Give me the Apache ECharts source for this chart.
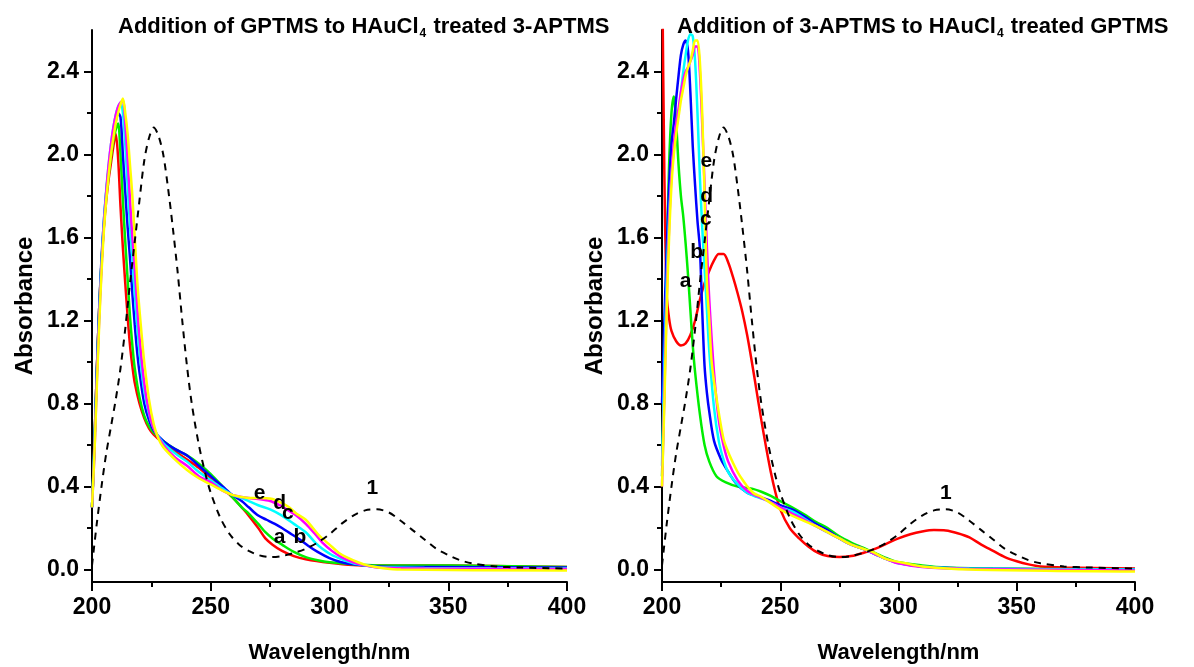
<!DOCTYPE html>
<html><head><meta charset="utf-8">
<script src="https://cdn.jsdelivr.net/npm/echarts@6/dist/echarts.min.js"></script>
<style>html,body{margin:0;padding:0;background:#fff}#c{width:1194px;height:667px}</style>
</head><body><div id="c"></div>
<script>
// ---------- tick labels ----------
const xTicks = [200, 250, 300, 350, 400];
const yTicks = [0, 0.4, 0.8, 1.2, 1.6, 2.0, 2.4];
const yMinorTicks = [0.2, 0.6, 1.0, 1.4, 1.8, 2.2];

// ---------- titles / names ----------
const leftTitle = ['Addition of GPTMS to HAuCl', '4', ' treated 3-APTMS'];
const rightTitle = ['Addition of 3-APTMS to HAuCl', '4', ' treated GPTMS'];
const xName = 'Wavelength/nm';
const yName = 'Absorbance';

// ---------- reference spectrum "1" (dashed) ----------
const ref1 = [[200,0.02],[202,0.22],[204,0.4],[206,0.56],[208,0.69],[210,0.82],[212,0.97],[214,1.16],[216,1.38],[218,1.58],[220,1.78],[222,1.97],[224,2.08],[226,2.13],[228,2.09],[230,2.0],[232,1.84],[234,1.65],[236,1.44],[238,1.2],[240,0.98],[242,0.8],[245,0.6],[248,0.45],[250,0.37],[254,0.25],[258,0.17],[262,0.12],[266,0.09],[270,0.07],[275,0.06],[280,0.065],[285,0.08],[290,0.1],[295,0.13],[300,0.17],[305,0.22],[310,0.26],[315,0.285],[320,0.29],[325,0.275],[330,0.235],[335,0.19],[340,0.145],[345,0.1],[350,0.07],[355,0.045],[360,0.03],[370,0.015],[380,0.01],[400,0.005]];

// ---------- left panel: GPTMS added to HAuCl4-treated 3-APTMS ----------
const L_red = [[200,0.3],[201,0.6],[202,0.95],[203,1.25],[204,1.48],[205,1.65],[206,1.78],[207,1.88],[208,1.96],[209,2.04],[210,2.1],[211,1.98],[212,1.75],[213,1.55],[214,1.38],[215,1.22],[216,1.08],[217,0.98],[218,0.9],[220,0.8],[222,0.73],[224,0.68],[226,0.65],[230,0.61],[235,0.57],[240,0.53],[245,0.49],[250,0.44],[255,0.39],[259,0.35],[263,0.3],[266,0.26],[270,0.2],[273,0.15],[276,0.12],[280,0.09],[285,0.065],[290,0.05],[300,0.033],[310,0.022],[320,0.02],[340,0.02],[360,0.018],[380,0.015],[400,0.012]];
const L_green = [[200,0.3],[201,0.6],[202,0.95],[203,1.25],[204,1.48],[205,1.66],[206,1.8],[207,1.9],[208,1.99],[209,2.07],[210,2.12],[211,2.15],[212,2.0],[213,1.78],[214,1.58],[215,1.4],[216,1.22],[217,1.08],[218,0.97],[220,0.83],[222,0.74],[224,0.69],[226,0.66],[230,0.62],[235,0.58],[240,0.55],[245,0.51],[250,0.46],[255,0.4],[259,0.35],[263,0.3],[266,0.27],[270,0.22],[273,0.18],[276,0.15],[280,0.12],[285,0.085],[290,0.06],[295,0.045],[300,0.035],[310,0.025],[320,0.02],[340,0.02],[360,0.018],[400,0.012]];
const L_blue = [[200,0.3],[201,0.6],[202,0.95],[203,1.25],[204,1.5],[205,1.68],[206,1.82],[207,1.93],[208,2.02],[209,2.1],[210,2.16],[211,2.2],[212,2.18],[213,2.0],[214,1.82],[215,1.65],[216,1.5],[217,1.33],[218,1.18],[219,1.05],[220,0.95],[222,0.8],[224,0.72],[226,0.67],[230,0.62],[235,0.58],[240,0.55],[245,0.5],[250,0.45],[255,0.4],[259,0.36],[263,0.33],[266,0.3],[270,0.26],[273.5,0.24],[277,0.22],[280,0.2],[284,0.17],[287.5,0.145],[291,0.115],[295,0.085],[300,0.055],[305,0.035],[310,0.025],[320,0.015],[340,0.012],[400,0.01]];
const L_cyan = [[200,0.3],[201,0.58],[202,0.92],[203,1.22],[204,1.48],[205,1.68],[206,1.83],[207,1.95],[208,2.05],[209,2.13],[210,2.19],[211,2.23],[212,2.25],[213,2.2],[214,2.05],[215,1.85],[216,1.66],[217,1.5],[218,1.33],[219,1.18],[220,1.05],[222,0.86],[224,0.75],[226,0.68],[230,0.61],[235,0.56],[240,0.52],[245,0.47],[250,0.43],[255,0.39],[259,0.36],[263,0.345],[266,0.33],[270,0.31],[275,0.29],[280,0.26],[285,0.22],[290,0.18],[294,0.13],[297,0.1],[301,0.07],[305,0.05],[310,0.03],[315,0.02],[320,0.012],[340,0.008],[400,0.005]];
const L_magenta = [[200,0.3],[201,0.55],[202,0.9],[203,1.2],[204,1.45],[205,1.66],[206,1.82],[207,1.95],[208,2.05],[209,2.13],[210,2.19],[211,2.23],[212,2.25],[213,2.26],[214,2.15],[215,1.98],[216,1.78],[217,1.6],[218,1.45],[219,1.28],[220,1.12],[222,0.9],[224,0.76],[226,0.68],[230,0.6],[235,0.54],[240,0.5],[245,0.45],[250,0.42],[255,0.38],[259,0.36],[263,0.35],[266,0.345],[270,0.34],[275,0.33],[279,0.31],[282,0.29],[286,0.26],[290,0.22],[294,0.17],[297,0.13],[301,0.09],[305,0.06],[310,0.035],[315,0.02],[320,0.01],[340,0.005],[400,0.003]];
const L_yellow = [[200,0.3],[201,0.55],[202,0.87],[203,1.17],[204,1.43],[205,1.63],[206,1.78],[207,1.9],[208,2.0],[209,2.08],[210,2.15],[211,2.2],[212,2.24],[213,2.27],[214,2.2],[215,2.1],[216,1.95],[217,1.8],[218,1.6],[219,1.4],[220,1.25],[221,1.12],[222,1.0],[224,0.82],[226,0.7],[228,0.63],[230,0.59],[235,0.53],[240,0.48],[245,0.44],[250,0.41],[255,0.38],[259,0.36],[263,0.35],[266,0.345],[270,0.345],[276,0.34],[280,0.32],[283,0.3],[286,0.27],[290,0.24],[293,0.2],[296,0.16],[299,0.13],[301,0.11],[304,0.08],[308,0.055],[312,0.035],[316,0.02],[322,0.008],[330,0.0],[400,-0.005]];

// ---------- right panel: 3-APTMS added to HAuCl4-treated GPTMS ----------
const R_red = [[200,3.0],[201,1.9],[202,1.32],[203,1.21],[204,1.15],[206,1.1],[208,1.08],[210,1.09],[212,1.13],[214,1.2],[216,1.3],[218,1.38],[220,1.44],[222,1.49],[224,1.52],[226,1.52],[228,1.48],[230,1.41],[232,1.33],[234,1.24],[236,1.13],[238,1.0],[240,0.86],[242,0.72],[244,0.59],[246,0.47],[248,0.37],[250,0.29],[254,0.2],[258,0.15],[262,0.11],[266,0.08],[270,0.065],[275,0.06],[280,0.065],[285,0.08],[290,0.1],[295,0.125],[300,0.15],[305,0.17],[310,0.183],[315,0.19],[320,0.188],[325,0.175],[330,0.155],[335,0.12],[340,0.09],[345,0.06],[350,0.04],[355,0.025],[360,0.015],[370,0.01],[400,0.005]];
const R_green = [[200,0.45],[201,0.9],[202,1.5],[203,1.95],[204,2.2],[205,2.28],[206,2.15],[207,1.95],[208,1.8],[209,1.7],[210,1.57],[211,1.42],[212,1.25],[213,1.08],[214,0.95],[216,0.75],[218,0.6],[220,0.52],[223,0.45],[227,0.42],[232,0.4],[238,0.39],[242,0.375],[246,0.355],[250,0.33],[255,0.3],[261,0.26],[265,0.23],[270,0.2],[275,0.16],[280,0.13],[285,0.105],[290,0.08],[295,0.055],[300,0.035],[310,0.02],[320,0.01],[340,0.005],[400,0.0]];
const R_blue = [[200,0.8],[201,1.2],[202,1.55],[203,1.85],[204,2.05],[205,2.15],[206,2.27],[207,2.38],[208,2.48],[209,2.53],[210,2.55],[211,2.5],[212,2.3],[213,2.04],[214,1.85],[215,1.68],[216,1.55],[217,1.25],[218,0.98],[219,0.85],[220,0.76],[222,0.62],[225,0.53],[227,0.49],[231,0.42],[236,0.37],[240,0.355],[245,0.335],[250,0.31],[255,0.29],[261,0.25],[265,0.22],[270,0.19],[275,0.15],[280,0.12],[285,0.1],[290,0.075],[295,0.05],[300,0.032],[310,0.015],[330,0.005],[400,0.0]];
const R_cyan = [[200,0.5],[201,1.0],[202,1.4],[203,1.7],[204,1.9],[205,2.02],[206,2.12],[207,2.2],[208,2.3],[209,2.4],[210,2.48],[211,2.55],[212,2.58],[213,2.57],[214,2.45],[215,2.2],[216,1.9],[217,1.65],[218,1.45],[219,1.25],[220,1.05],[222,0.78],[224,0.62],[226,0.53],[228,0.47],[232,0.41],[236,0.37],[240,0.35],[245,0.33],[250,0.3],[255,0.28],[261,0.24],[265,0.21],[270,0.18],[275,0.15],[280,0.12],[285,0.1],[290,0.075],[295,0.05],[300,0.03],[310,0.015],[330,0.005],[400,0.0]];
const R_magenta = [[200,0.4],[201,0.85],[202,1.3],[203,1.65],[204,1.9],[205,2.05],[206,2.15],[207,2.22],[208,2.3],[209,2.36],[210,2.4],[211,2.42],[212,2.45],[213,2.48],[214,2.52],[215,2.52],[216,2.4],[217,2.15],[218,1.85],[219,1.55],[220,1.3],[222,0.95],[224,0.72],[226,0.6],[228,0.52],[232,0.43],[236,0.38],[240,0.355],[245,0.33],[250,0.3],[255,0.27],[261,0.235],[265,0.21],[270,0.18],[275,0.15],[280,0.12],[285,0.1],[290,0.075],[295,0.05],[300,0.03],[310,0.012],[330,0.003],[400,-0.005]];
const R_yellow = [[200,0.4],[201,0.8],[202,1.25],[203,1.6],[204,1.85],[205,2.0],[206,2.1],[207,2.18],[208,2.26],[209,2.32],[210,2.38],[211,2.42],[212,2.45],[213,2.5],[214,2.55],[215,2.55],[216,2.45],[217,2.2],[218,1.8],[219,1.38],[220,1.2],[221,1.0],[223,0.83],[226,0.63],[228.6,0.55],[233,0.45],[238.5,0.37],[242,0.35],[246,0.32],[250,0.29],[255,0.26],[261,0.23],[265,0.21],[270,0.18],[275,0.15],[280,0.12],[285,0.1],[289,0.085],[295,0.05],[303,0.03],[310,0.015],[330,0.0],[400,-0.01]];

// ---------- curve labels [text, wavelength, absorbance] ----------
const leftLabels = [['a',279,0.155],['b',287.5,0.155],['c',282.5,0.27],['d',279,0.32],['e',270.6,0.37],['1',318,0.39]];
const rightLabels = [['a',210,1.39],['b',214.7,1.53],['c',218.5,1.69],['d',218.9,1.8],['e',218.7,1.97],['1',320,0.37]];

const colors = ['#ff0000', '#00ee00', '#0000ff', '#00ffff', '#ff00ff', '#ffff00'];
const leftSets = [L_red, L_green, L_blue, L_cyan, L_magenta, L_yellow];
const rightSets = [R_red, R_green, R_blue, R_cyan, R_magenta, R_yellow];

const FONT = '"Liberation Sans", Arial, sans-serif';

const grids = [
  {left: 92, top: 30, width: 475, height: 552, outerBoundsMode: 'none', containLabel: false},
  {left: 662, top: 30, width: 473, height: 552, outerBoundsMode: 'none', containLabel: false}
];

function xAxisFor(gi) {
  return {
    type: 'value', gridIndex: gi, min: 200, max: 400, interval: 50,
    axisLine: {onZero: false, lineStyle: {color: '#000', width: 2}},
    axisTick: {inside: false, length: 9, lineStyle: {color: '#000', width: 2}},
    minorTick: {show: true, splitNumber: 2, length: 5, lineStyle: {color: '#000', width: 2}},
    splitLine: {show: false}, minorSplitLine: {show: false},
    axisLabel: {color: '#000', fontFamily: FONT, fontWeight: 'bold', fontSize: 23, margin: 14,
      customValues: xTicks, formatter: v => String(v)},
    name: xName, nameLocation: 'middle', nameGap: 60,
    nameTextStyle: {color: '#000', fontFamily: FONT, fontWeight: 'bold', fontSize: 22}
  };
}
function yAxisFor(gi) {
  return {
    type: 'value', gridIndex: gi, min: -0.06, max: 2.6, position: 'left',
    axisLine: {show: true, onZero: false, lineStyle: {color: '#000', width: 2}},
    axisTick: {show: true, inside: false, length: 8, customValues: yTicks, lineStyle: {color: '#000', width: 2}},
    splitLine: {show: false},
    axisLabel: {color: '#000', fontFamily: FONT, fontWeight: 'bold', fontSize: 23, margin: 13,
      customValues: yTicks, formatter: v => v.toFixed(1)},
    name: yName, nameLocation: 'middle', nameGap: 55,
    nameTextStyle: {color: '#000', fontFamily: FONT, fontWeight: 'bold', fontSize: 24}
  };
}
function yMinorFor(gi) {
  return {
    type: 'value', gridIndex: gi, min: -0.06, max: 2.6, position: 'left',
    axisLine: {show: false},
    axisTick: {show: true, inside: false, length: 5, customValues: yMinorTicks, lineStyle: {color: '#000', width: 2}},
    axisLabel: {show: false}, splitLine: {show: false}
  };
}

function titleFor(parts, left) {
  return {
    left: left, top: 8,
    text: '{t|' + parts[0] + '}{s|' + parts[1] + '}{t|' + parts[2] + '}',
    textStyle: {
      rich: {
        t: {fontFamily: FONT, fontWeight: 'bold', fontSize: 22, color: '#000', lineHeight: 28},
        s: {fontFamily: FONT, fontWeight: 'bold', fontSize: 12, color: '#000', lineHeight: 28, padding: [14, 1, 0, 1]}
      }
    }
  };
}

const series = [];
function addPanel(sets, xi, yi, labels) {
  sets.forEach((d, i) => {
    series.push({type: 'line', xAxisIndex: xi, yAxisIndex: yi, data: d, showSymbol: false, smooth: 0.3,
      clip: true, lineStyle: {color: colors[i], width: 2.5}, silent: true, z: 2 + i});
  });
  series.push({type: 'line', xAxisIndex: xi, yAxisIndex: yi, data: ref1, showSymbol: false, smooth: 0.3,
    clip: true, lineStyle: {color: '#000', width: 2, type: [7, 6]}, silent: true, z: 10});
  series.push({type: 'scatter', xAxisIndex: xi, yAxisIndex: yi, symbolSize: 1, silent: true, z: 20,
    itemStyle: {color: '#000', opacity: 0},
    data: labels.map(l => ({name: l[0], value: [l[1], l[2]]})),
    label: {show: true, position: 'inside', formatter: '{b}', color: '#000', opacity: 1,
      textBorderWidth: 0, textBorderColor: 'transparent',
      fontFamily: FONT, fontWeight: 'bold', fontSize: 21}});
}
addPanel(leftSets, 0, 0, leftLabels);
addPanel(rightSets, 1, 2, rightLabels);

const chart = echarts.init(document.getElementById('c'), null, {renderer: 'canvas'});
chart.setOption({
  animation: false,
  backgroundColor: '#fff',
  title: [titleFor(leftTitle, 113), titleFor(rightTitle, 672)],
  grid: grids,
  xAxis: [xAxisFor(0), xAxisFor(1)],
  yAxis: [yAxisFor(0), yMinorFor(0), yAxisFor(1), yMinorFor(1)],
  series: series
});
</script></body></html>
